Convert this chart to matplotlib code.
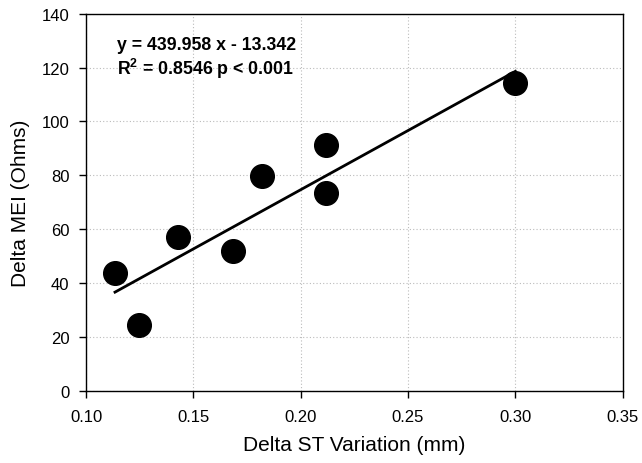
import numpy as np
import matplotlib
matplotlib.use('Agg')
import matplotlib.pyplot as plt

plt.rcParams['font.family'] = ['Liberation Sans', 'DejaVu Sans']
plt.rcParams['mathtext.fontset'] = 'custom'
plt.rcParams['mathtext.rm'] = 'Liberation Sans'
plt.rcParams['mathtext.bf'] = 'Liberation Sans:bold'

# data
st_variation = [0.1135, 0.1248, 0.143, 0.1686, 0.1822, 0.2117, 0.2117, 0.300]
mei = [43.8, 24.5, 57.1, 51.7, 79.7, 91.3, 73.3, 114.4]
slope = 439.958
intercept = -13.342

fig = plt.figure(figsize=(6.42, 4.64), dpi=100)
ax = fig.add_axes([0.134, 0.156, 0.836, 0.812])

ax.grid(True, color='#bbbbbb', linestyle=(0, (1, 2)), linewidth=0.8)
ax.set_axisbelow(True)

# regression line over the data range
xl = np.array([min(st_variation), max(st_variation)])
ax.plot(xl, slope * xl + intercept, color='black', linewidth=2, zorder=2)
ax.scatter(st_variation, mei, s=290, color='black', zorder=3)

ax.set_xlim(0.10, 0.35)
ax.set_ylim(0, 140)
ax.set_xticks(np.arange(0.10, 0.36, 0.05))
ax.set_yticks(np.arange(0, 141, 20))
ax.set_xticklabels(['%.2f' % t for t in np.arange(0.10, 0.36, 0.05)])
ax.tick_params(direction='out', length=5, width=1, labelsize=12)
ax.tick_params(axis='x', pad=8)
ax.tick_params(axis='y', pad=7)
for s in ax.spines.values():
    s.set_linewidth(1)

ax.set_xlabel('Delta ST Variation (mm)', fontsize=15, labelpad=8)
ax.set_ylabel('Delta MEI (Ohms)', fontsize=15, labelpad=8)

ax.text(0.1144, 131.8, 'y = 439.958 x - 13.342\n' + r'R$^\mathbf{2}$ = 0.8546 p < 0.001',
        fontsize=12.8, fontweight='bold', va='top', ha='left', linespacing=1.15)

fig.savefig('out.png', dpi=100)
